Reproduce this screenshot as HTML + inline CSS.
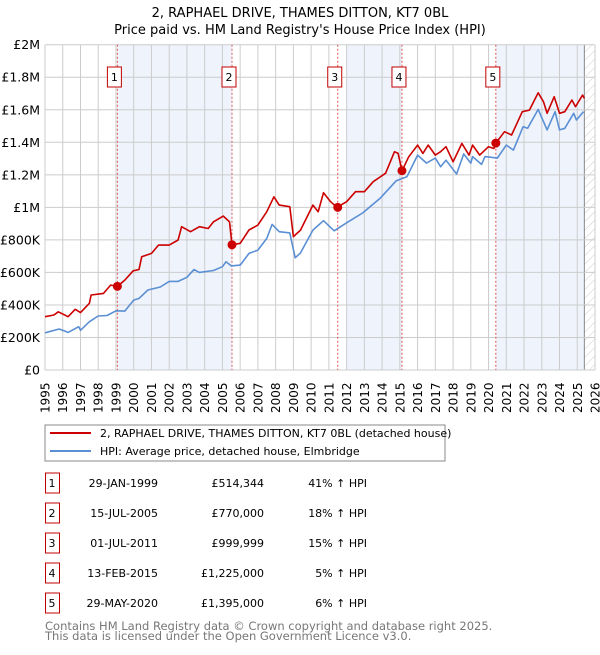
<!DOCTYPE html>
<html><head><meta charset="utf-8">
<style>
body{margin:0;background:#fff;font-family:"Liberation Sans","DejaVu Sans",sans-serif;}
svg text{font-family:"DejaVu Sans","Liberation Sans",sans-serif;}
</style></head>
<body>
<svg id="chart" width="600" height="650" viewBox="0 0 600 650" xmlns="http://www.w3.org/2000/svg">
<defs>
<pattern id="hatch" width="6" height="6" patternUnits="userSpaceOnUse" patternTransform="rotate(45)">
<line x1="0" y1="0" x2="0" y2="6" stroke="#ccc" stroke-width="1"/>
</pattern>
</defs>
<text x="300" y="17" text-anchor="middle" font-size="13" fill="#000">2, RAPHAEL DRIVE, THAMES DITTON, KT7 0BL</text>
<text x="300" y="34" text-anchor="middle" font-size="13" fill="#000">Price paid vs. HM Land Registry's House Price Index (HPI)</text>
<g id="plot"></g>
<g>
<rect x="45" y="425" width="400" height="36" fill="#fff" stroke="#888"/>
<line x1="50" y1="433" x2="91" y2="433" stroke="#cc0000" stroke-width="2"/>
<text x="100" y="437" font-size="11">2, RAPHAEL DRIVE, THAMES DITTON, KT7 0BL (detached house)</text>
<line x1="50" y1="451" x2="91" y2="451" stroke="#5b8fd4" stroke-width="2"/>
<text x="100" y="455" font-size="11">HPI: Average price, detached house, Elmbridge</text>
</g>
<g id="table" font-size="11"></g>
<text x="45" y="630" font-size="11.5" fill="#777">Contains HM Land Registry data © Crown copyright and database right 2025.</text>
<text x="45" y="640" font-size="11.5" fill="#777">This data is licensed under the Open Government Licence v3.0.</text>
</svg>
<script>
const hpiYears=[1995.0,1995.8,1996.3,1996.9,1997.0,1997.5,1998.0,1998.5,1999.0,1999.5,2000.0,2000.3,2000.8,2001.5,2002.0,2002.5,2003.0,2003.4,2003.7,2004.5,2005.0,2005.2,2005.5,2006.0,2006.5,2007.0,2007.5,2007.8,2008.2,2008.8,2009.1,2009.4,2010.1,2010.7,2011.3,2012.0,2012.9,2013.9,2014.8,2015.4,2016.0,2016.5,2017.0,2017.3,2017.6,2018.2,2018.6,2019.0,2019.1,2019.6,2019.8,2020.5,2021.0,2021.4,2021.95,2022.2,2022.8,2023.3,2023.75,2024.0,2024.3,2024.8,2024.95,2025.35];
const hpiValues=[229,252,231,266,244,297,332,335,364,362,430,440,492,510,545,545,570,617,600,612,635,665,640,645,717,737,809,895,850,843,690,720,860,918,856,905,965,1057,1164,1188,1321,1272,1303,1250,1290,1205,1328,1272,1312,1264,1312,1303,1383,1352,1496,1486,1602,1476,1588,1476,1486,1578,1537,1588];
const ppYears=[1995.0,1995.5,1995.75,1996.3,1996.7,1997.0,1997.5,1997.6,1998.3,1998.7,1999.08,1999.5,1999.97,2000.3,2000.45,2001.0,2001.4,2002.0,2002.5,2002.7,2003.2,2003.7,2004.2,2004.5,2005.05,2005.4,2005.54,2006.0,2006.5,2007.0,2007.5,2007.9,2008.2,2008.8,2009.0,2009.4,2010.1,2010.4,2010.7,2011.1,2011.46,2012.0,2012.5,2013.0,2013.5,2014.2,2014.7,2014.9,2015.12,2015.5,2016.0,2016.3,2016.6,2017.0,2017.3,2017.6,2018.0,2018.5,2018.9,2019.1,2019.5,2020.0,2020.3,2020.41,2020.9,2021.3,2021.9,2022.3,2022.8,2023.1,2023.3,2023.7,2024.0,2024.3,2024.7,2024.9,2025.3,2025.4];
const ppValues=[328,338,358,328,373,353,410,461,471,522,514,553,610,618,696,717,768,768,799,881,850,881,870,911,946,911,770,779,861,891,973,1065,1014,1004,820,860,1014,973,1090,1035,1000,1035,1096,1096,1158,1210,1342,1332,1225,1311,1383,1332,1383,1321,1342,1373,1280,1393,1321,1383,1321,1373,1362,1395,1465,1445,1588,1598,1704,1649,1578,1680,1578,1588,1660,1619,1690,1670];
const saleLabels=["1","2","3","4","5"];
const saleYears=[1999.08,2005.54,2011.5,2015.12,2020.41];
const saleValues=[514344,770000,999999,1225000,1395000];
const saleDates=["29-JAN-1999","15-JUL-2005","01-JUL-2011","13-FEB-2015","29-MAY-2020"];
const salePrices=["£514,344","£770,000","£999,999","£1,225,000","£1,395,000"];
const saleHpi=["41% ↑ HPI","18% ↑ HPI","15% ↑ HPI","5% ↑ HPI","6% ↑ HPI"];
const bandStarts=[1999.08,2012.0,2020.41];
const bandEnds=[2005.54,2015.12,2025.4];
const yTicks=[0,200,400,600,800,1000,1200,1400,1600,1800,2000];
const yTickLabels=["£0","£200K","£400K","£600K","£800K","£1M","£1.2M","£1.4M","£1.6M","£1.8M","£2M"];
const xTicks=[1995,1996,1997,1998,1999,2000,2001,2002,2003,2004,2005,2006,2007,2008,2009,2010,2011,2012,2013,2014,2015,2016,2017,2018,2019,2020,2021,2022,2023,2024,2025,2026];

const X0=45,X1=595,Y0=370,Y1=44.7;
const xs=y=>X0+(y-1995)/(2026-1995)*(X1-X0);
const ys=v=>Y0-v/2000*(Y0-Y1);
const NS="http://www.w3.org/2000/svg";
const plot=document.getElementById('plot');
function mk(tag,attrs,parent){const e=document.createElementNS(NS,tag);for(const k in attrs)e.setAttribute(k,attrs[k]);(parent||plot).appendChild(e);return e;}

// bands
bandStarts.forEach((s,i)=>{
  const r=mk('rect',{x:xs(s),y:Y1,width:xs(bandEnds[i])-xs(s),height:Y0-Y1,fill:'#eef3fc'});
  
  
});
// hatch future
const h=mk('rect',{x:xs(2025.4),y:Y1,width:X1-xs(2025.4),height:Y0-Y1,fill:'url(#hatch)'});


mk('line',{x1:xs(2025.4),y1:Y1,x2:xs(2025.4),y2:Y0,stroke:'#888','stroke-width':1});
// grid
xTicks.forEach(t=>{
  const l=mk('line',{x1:xs(t),y1:Y1,x2:xs(t),y2:Y0,stroke:'#ccc','stroke-width':1});
  
  
  const tx=mk('text',{x:0,y:0,'font-size':12,transform:`translate(${xs(t)+4.5},413) rotate(-90)`});
  tx.textContent=t;
  
  
});
yTicks.forEach((t,i)=>{
  const l=mk('line',{x1:X0,y1:ys(t),x2:X1,y2:ys(t),stroke:'#ccc','stroke-width':1});
  
  
  const tx=mk('text',{x:40,y:ys(t)+4.5,'font-size':12.5,'text-anchor':'end'});
  tx.textContent=yTickLabels[i];
  
  
});
// sale lines
saleYears.forEach((s,i)=>{
  const l=mk('line',{x1:xs(s),y1:Y1,x2:xs(s),y2:Y0,stroke:'#e05555','stroke-width':1,'stroke-dasharray':'2,2'});
  
  
  const bx=xs(s)-3;
  const r=mk('rect',{x:bx-7,y:67,width:14,height:20,fill:'#fff',stroke:'#c00000','stroke-width':1});
  
  
  const t=mk('text',{x:bx,y:81,'font-size':11,'text-anchor':'middle'});
  t.textContent=saleLabels[i];
  
  
});
function path(xa,va,color,name){
  const d=xa.map((x,i)=>(i?'L':'M')+xs(x).toFixed(1)+','+ys(va[i]).toFixed(1)).join('');
  const p=mk('path',{d:d,fill:'none',stroke:color,'stroke-width':1.6,'stroke-linejoin':'round'});
  
  
}
path(hpiYears,hpiValues,'#5b8fd4','hpi-line');
path(ppYears,ppValues,'#cc0000','price-paid-line');
saleYears.forEach((s,i)=>{
  const c=mk('circle',{cx:xs(s),cy:ys(saleValues[i]/1000),r:4.5,fill:'#cc0000'});
  
  
});
// table
const tb=document.getElementById('table');
saleLabels.forEach((lab,i)=>{
  const cy=483+i*30;
  const r=mk('rect',{x:45.5,y:cy-10,width:14,height:20,fill:'#fff',stroke:'#c00000'},tb);
  
  
  const cells=[[52,'middle',lab,'table-row-number'],[158,'end',saleDates[i],'table-date'],[264,'end',salePrices[i],'table-price'],[367,'end',saleHpi[i],'table-hpi-change']];
  cells.forEach(c=>{
    const t=mk('text',{x:c[0],y:cy+4,'text-anchor':c[1],'font-size':11},tb);
    t.textContent=c[2];
    
    
  });
});
</script>
</body></html>
